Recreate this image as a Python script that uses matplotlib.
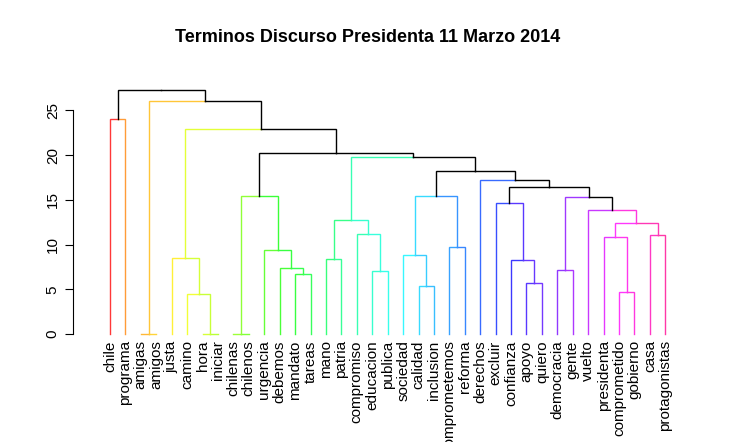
import colorsys
import matplotlib
matplotlib.use('Agg')
import matplotlib.pyplot as plt

plt.rcParams['font.family'] = ['Liberation Sans', 'DejaVu Sans']

# leaves in dendrogram order
labels = ['chile', 'programa', 'amigas', 'amigos', 'justa', 'camino', 'hora', 'iniciar',
          'chilenas', 'chilenos', 'urgencia', 'debemos', 'mandato', 'tareas', 'mano', 'patria',
          'compromiso', 'educacion', 'publica', 'sociedad', 'calidad', 'inclusion',
          'comprometemos', 'reforma', 'derechos', 'excluir', 'confianza', 'apoyo', 'quiero',
          'democracia', 'gente', 'vuelto', 'presidenta', 'comprometido', 'gobierno', 'casa',
          'protagonistas']
n = len(labels)

# merges: (child a, child b, height); ids < n are leaves, id n+k is merge k
merges = [
    (2, 3, 0.0), (6, 7, 0.0), (5, 38, 4.5), (4, 39, 8.5),
    (8, 9, 0.0), (12, 13, 6.7), (11, 42, 7.4), (10, 43, 9.4), (41, 44, 15.4),
    (14, 15, 8.4), (17, 18, 7.1), (16, 47, 11.2), (46, 48, 12.8),
    (20, 21, 5.4), (19, 50, 8.8), (22, 23, 9.7), (51, 52, 15.4),
    (27, 28, 5.7), (26, 54, 8.3), (25, 55, 14.7),
    (29, 30, 7.2), (33, 34, 4.7), (32, 58, 10.8), (35, 36, 11.1), (59, 60, 12.4),
    (31, 61, 13.9), (57, 62, 15.3), (56, 63, 16.4), (24, 64, 17.2), (53, 65, 18.2),
    (49, 66, 19.75), (45, 67, 20.2), (40, 68, 22.9), (37, 69, 26.0),
    (0, 1, 24.0), (71, 70, 27.3),
]
cut = 13.5

xpos = {i: float(i) for i in range(n)}
hgt = {i: 0.0 for i in range(n)}
members = {i: [i] for i in range(n)}
for k, (a, b, h) in enumerate(merges):
    nid = n + k
    xpos[nid] = (xpos[a] + xpos[b]) / 2
    hgt[nid] = h
    members[nid] = members[a] + members[b]


def edge_color(node):
    if hgt[node] >= cut:
        return 'black'
    m = sum(members[node]) / len(members[node])
    hue = 0.0 if m == 0 else min(0.06 + m * 0.0235, 0.93)
    return colorsys.hsv_to_rgb(hue, 0.78, 1.0)


fig = plt.figure(figsize=(7.36, 4.42), dpi=100)
ax = fig.add_axes([73 / 736, 0.222, 617 / 736, 0.597])

for k, (a, b, h) in enumerate(merges):
    xm = xpos[n + k]
    for c in (a, b):
        col = edge_color(c)
        ax.plot([xm, xpos[c], xpos[c]], [h, h, hgt[c]], color=col, lw=1.0,
                solid_joinstyle='miter')

for i, lab in enumerate(labels):
    ax.text(i, -0.7, lab, rotation=90, ha='center', va='top', fontsize=11)

ax.set_xlim(-2.4, 37.6)
ax.set_ylim(-1.1, 28.4)
ax.set_yticks([0, 5, 10, 15, 20, 25])
ax.set_yticklabels(['0', '5', '10', '15', '20', '25'], rotation=90, va='center', fontsize=11)
ax.set_xticks([])
for s in ('top', 'right', 'bottom'):
    ax.spines[s].set_visible(False)
ax.spines['left'].set_bounds(0, 25)
ax.tick_params(axis='y', length=6)

fig.suptitle('Terminos Discurso Presidenta 11 Marzo 2014', fontsize=13, fontweight='bold',
             y=0.935)

fig.savefig('out.png', dpi=100)
